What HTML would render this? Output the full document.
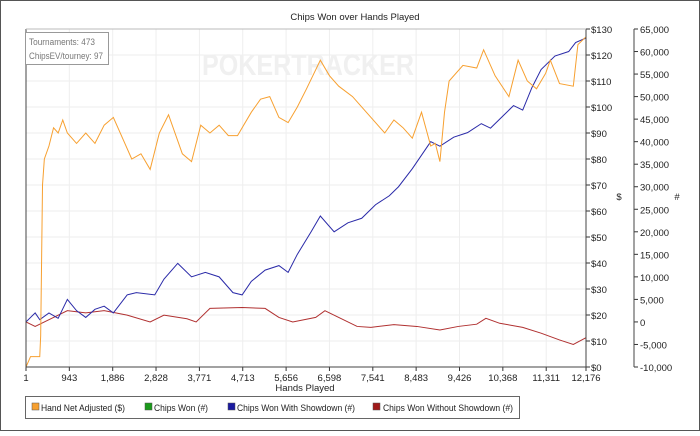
<!DOCTYPE html>
<html><head><meta charset="utf-8"><style>
body{margin:0;background:#fff;font-family:"Liberation Sans",sans-serif;}
svg text{font-family:"Liberation Sans",sans-serif;font-size:9.5px;fill:#222}
</style></head><body>
<svg width="700" height="431">
<rect x="0.5" y="0.5" width="699" height="430" fill="#fff" stroke="#555"/>
<text x="355" y="20" text-anchor="middle">Chips Won over Hands Played</text>
<g id="grid"></g>
<text x="308" y="75" text-anchor="middle" textLength="212" lengthAdjust="spacingAndGlyphs" style="font-size:30px;font-weight:bold;fill:#f0f0f0">POKERTRACKER</text>
<g id="series"></g>
<g id="axes"></g>
<rect x="25.5" y="32.5" width="83" height="32" fill="#fff" stroke="#999"/>
<text x="29" y="45" textLength="66" lengthAdjust="spacingAndGlyphs" style="fill:#777;font-size:9px">Tournaments: 473</text>
<text x="29" y="59" textLength="74" lengthAdjust="spacingAndGlyphs" style="fill:#777;font-size:9px">ChipsEV/tourney: 97</text>
<text x="305" y="391" text-anchor="middle">Hands Played</text>
<text x="619" y="200" text-anchor="middle">$</text>
<text x="677" y="200" text-anchor="middle">#</text>
<g>
<rect x="25.5" y="396.5" width="494" height="22" fill="#fff" stroke="#666"/>
<rect x="32" y="403" width="7" height="7" fill="#f7a030" stroke="#555" stroke-width="0.5"/>
<text x="41" y="411" textLength="84" lengthAdjust="spacingAndGlyphs">Hand Net Adjusted ($)</text>
<rect x="145" y="403" width="7" height="7" fill="#1a9a1a" stroke="#555" stroke-width="0.5"/>
<text x="154" y="411" textLength="54" lengthAdjust="spacingAndGlyphs">Chips Won (#)</text>
<rect x="228" y="403" width="7" height="7" fill="#1a1aa0" stroke="#555" stroke-width="0.5"/>
<text x="237" y="411" textLength="118" lengthAdjust="spacingAndGlyphs">Chips Won With Showdown (#)</text>
<rect x="373" y="403" width="7" height="7" fill="#a01a1a" stroke="#555" stroke-width="0.5"/>
<text x="383" y="411" textLength="130" lengthAdjust="spacingAndGlyphs">Chips Won Without Showdown (#)</text>
</g>
</svg>
<script>
const xTicks=[1,943,1886,2828,3771,4713,5656,6598,7541,8483,9426,10368,11311,12176];
const dollarTicks=[0,10,20,30,40,50,60,70,80,90,100,110,120,130];
const chipTicks=[-10000,-5000,0,5000,10000,15000,20000,25000,30000,35000,40000,45000,50000,55000,60000,65000];
const netHands=[1,100,300,320,360,400,500,600,700,800,900,1000,1100,1300,1500,1700,1900,2100,2300,2500,2700,2900,3100,3400,3600,3800,4000,4200,4400,4600,4900,5100,5300,5500,5700,5900,6100,6400,6600,6800,7100,7400,7600,7800,8000,8200,8400,8600,8800,8900,9000,9100,9200,9500,9800,9950,10200,10500,10700,10900,11100,11300,11400,11600,11900,12000,12176];
const netValues=[0,4,4,12,70,80,85,92,90,95,90,88,86,90,86,93,96,88,80,82,76,90,97,82,79,93,90,93,89,89,98,103,104,96,94,100,107,118,112,108,104,98,94,90,95,92,88,98,85,86,79,98,110,116,115,122,112,104,118,110,107,113,118,109,108,124,127];
const sdHands=[1,200,300,500,700,900,1100,1300,1500,1700,1900,2200,2400,2800,3000,3300,3600,3900,4200,4500,4700,4900,5200,5500,5700,5900,6200,6400,6700,7000,7300,7600,7900,8100,8400,8600,8800,9000,9300,9600,9900,10100,10400,10600,10800,11000,11200,11500,11800,11950,12176];
const sdValues=[0,2000,500,2000,800,5000,2500,1000,2800,3500,2000,6000,6500,6000,9500,13000,10000,11000,10000,6500,6000,9000,11500,12500,11000,15000,20000,23500,20000,22000,23000,26000,28000,30000,34000,37000,40000,39000,41000,42000,44000,43000,46000,48000,47000,52000,56000,59000,60000,62000,63000];
const nsdHands=[1,200,600,900,1300,1700,2200,2700,3000,3500,3700,4000,4700,5200,5500,5800,6300,6500,6800,7200,7500,8000,8500,9000,9400,9800,10000,10300,10800,11200,11600,11900,12176];
const nsdValues=[0,-1000,1000,2500,2000,2500,1500,0,1500,700,0,3000,3200,3000,1000,0,1000,2500,1000,-1000,-1200,-600,-1000,-1800,-1000,-500,800,-300,-1200,-2500,-4000,-5000,-3500];
const L=26,R=586,T=29,B=367,NS="http://www.w3.org/2000/svg";
const xS=v=>L+(v-1)/(12176-1)*(R-L);
const yD=v=>B-v/130*(B-T);
const yC=v=>B-(v+10000)/75000*(B-T);
function mk(t,a,p){const e=document.createElementNS(NS,t);for(const k in a)e.setAttribute(k,a[k]);p.appendChild(e);return e;}
const grid=document.getElementById('grid'),axes=document.getElementById('axes'),ser=document.getElementById('series');
xTicks.forEach(t=>{const x=xS(t);
 const g=mk('line',{x1:x,x2:x,y1:T,y2:B,stroke:'#eee'},grid);
 
 
 const k=mk('line',{x1:x,x2:x,y1:B,y2:B+4,stroke:'#333'},axes);
 
 
 const l=mk('text',{x:x,y:B+14,'text-anchor':'middle'},axes);l.textContent=t.toLocaleString('en-US');
 
 
});
dollarTicks.forEach(t=>{const y=yD(t);
 const g=mk('line',{x1:L,x2:R,y1:y,y2:y,stroke:'#eee'},grid);
 
 
 const k=mk('line',{x1:R,x2:R+4,y1:y,y2:y,stroke:'#333'},axes);
 
 
 const l=mk('text',{x:R+5,y:y+4},axes);l.textContent='$'+t;
 
 
});
chipTicks.forEach(t=>{const y=yC(t);
 const k=mk('line',{x1:634,x2:638,y1:y,y2:y,stroke:'#333'},axes);
 
 
 const l=mk('text',{x:640,y:y+4},axes);l.textContent=t.toLocaleString('en-US');
 
 
});
const a1=mk('polyline',{points:`${L},${T} ${L},${B} ${R},${B} ${R},${T}`,fill:'none',stroke:'#444'},axes);


const tl=mk('line',{x1:L,x2:R,y1:T,y2:T,stroke:'#bbb'},axes);


const a2=mk('line',{x1:634,x2:634,y1:T,y2:B,stroke:'#444'},axes);


function line(xs,vs,yf,c,n){const p=mk('polyline',{points:xs.map((h,i)=>xS(h)+','+yf(vs[i])).join(' '),fill:'none',stroke:c,'stroke-width':1},ser);
 
 }
line(nsdHands,nsdValues,yC,'#b03030','line-chips-without-showdown');
line(sdHands,sdValues,yC,'#2a2aa8','line-chips-with-showdown');
line(netHands,netValues,yD,'#f7a030','line-hand-net-adjusted');
</script>
</body></html>
